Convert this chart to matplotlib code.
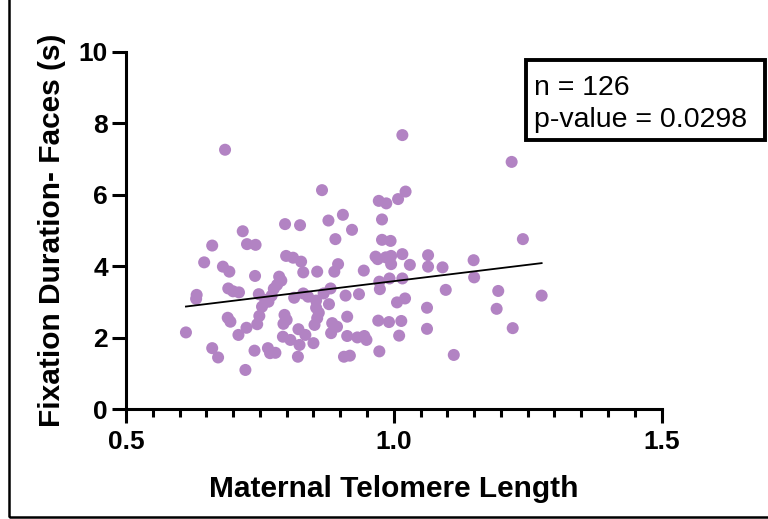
import numpy as np
import matplotlib.pyplot as plt
from matplotlib.patches import Rectangle

plt.rcParams['font.family'] = ['Liberation Sans', 'DejaVu Sans']

# maternal telomere length (x) vs fixation duration on faces in seconds (y)
telomere = [0.685, 0.866, 0.905, 0.878, 0.797, 0.825, 0.922, 0.718, 0.891, 0.661,
            0.726, 0.742, 0.646, 0.799, 0.812, 0.827, 0.896, 0.857, 0.681, 0.693,
            0.741, 0.786, 0.782, 0.776, 0.831, 0.889, 0.691, 0.711, 0.632, 0.631,
            0.748, 0.760, 0.766, 0.754, 0.814, 0.831, 0.869, 0.882, 0.855, 0.855,
            0.879, 0.910, 0.690, 0.695, 0.749, 0.745, 0.725, 0.710, 0.612, 0.796,
            0.794, 0.793, 0.807, 0.822, 0.824, 0.835, 0.850, 0.857, 0.852, 0.885,
            0.894, 0.883, 0.913, 0.913, 0.907, 0.661, 0.672, 0.740, 0.765, 0.769,
            0.779, 0.821, 0.723, 1.016, 1.220, 1.022, 1.008, 0.972, 0.986, 0.978,
            0.978, 0.994, 1.241, 0.966, 0.970, 0.995, 1.016, 0.995, 1.030, 1.064,
            1.064, 1.091, 1.149, 0.944, 1.150, 1.195, 1.192, 1.222, 1.112, 1.097,
            0.973, 0.974, 0.992, 1.016, 0.935, 1.006, 1.021, 1.062, 1.062, 0.971,
            0.991, 1.014, 1.010, 0.932, 0.949, 0.973, 0.918, 1.276, 0.790, 0.772,
            0.840, 0.860, 0.945, 0.985, 0.800, 0.700]
fixation = [7.26, 6.13, 5.44, 5.28, 5.18, 5.15, 5.02, 4.98, 4.76, 4.58,
            4.62, 4.60, 4.11, 4.29, 4.24, 4.13, 4.06, 3.85, 3.99, 3.85,
            3.73, 3.71, 3.48, 3.37, 3.83, 3.85, 3.38, 3.27, 3.20, 3.09,
            3.22, 3.06, 3.01, 2.87, 3.12, 3.24, 3.24, 3.38, 3.04, 2.84,
            2.94, 3.18, 2.56, 2.45, 2.61, 2.38, 2.28, 2.08, 2.15, 2.64,
            2.39, 2.03, 1.94, 2.24, 1.80, 2.08, 1.85, 2.55, 2.36, 2.41,
            2.31, 2.13, 2.59, 2.05, 1.47, 1.71, 1.45, 1.64, 1.71, 1.57,
            1.58, 1.47, 1.10, 7.67, 6.92, 6.09, 5.88, 5.83, 5.76, 5.31,
            4.74, 4.71, 4.76, 4.27, 4.20, 4.29, 4.34, 4.06, 4.04, 4.31,
            3.99, 3.97, 4.17, 3.88, 3.69, 3.31, 2.81, 2.27, 1.52, 3.34,
            3.57, 3.36, 3.66, 3.66, 3.22, 2.99, 3.10, 2.84, 2.25, 2.48,
            2.44, 2.47, 2.06, 2.01, 1.94, 1.62, 1.50, 3.18, 3.60, 3.18,
            3.15, 2.70, 2.05, 4.25, 2.50, 3.30]

n_label = 'n = 126'
p_label = 'p-value = 0.0298'

x = np.array(telomere)
y = np.array(fixation)
slope, intercept = np.polyfit(x, y, 1)

fig = plt.figure(figsize=(7.68, 5.19), dpi=100)
ax = fig.add_axes([0.164, 0.2114, 0.6975, 0.6888])

ax.scatter(x, y, s=75, color='#b283c3', edgecolors='none', zorder=3)
xs = np.array([x.min(), x.max()])
ax.plot(xs, slope * xs + intercept, color='black', lw=1.3, zorder=4)

ax.set_xlim(0.5, 1.5)
ax.set_ylim(0, 10)
ax.set_xticks([0.5, 1.0, 1.5])
ax.set_xticklabels(['0.5', '1.0', '1.5'])
ax.set_xticks(np.arange(0.55, 1.5, 0.05), minor=True)
ax.set_yticks(range(0, 11, 2))

for side in ['top', 'right']:
    ax.spines[side].set_visible(False)
for side in ['left', 'bottom']:
    ax.spines[side].set_linewidth(2.2)

ax.tick_params(axis='both', which='major', width=2.2, length=10, labelsize=19)
ax.tick_params(axis='x', which='major', pad=5)
ax.tick_params(axis='y', which='major', pad=3)
ax.tick_params(axis='x', which='minor', width=2.2, length=6)
for lbl in ax.get_xticklabels() + ax.get_yticklabels():
    lbl.set_fontweight('bold')

ax.set_xlabel('Maternal Telomere Length', fontsize=21.5, fontweight='bold', labelpad=15)
ax.set_ylabel('Fixation Duration- Faces (s)', fontsize=21.5, fontweight='bold', labelpad=9)

# stats box
fig.patches.append(Rectangle((526 / 768, 1 - 140 / 519), 239 / 768, 80 / 519,
                             transform=fig.transFigure, fill=False,
                             edgecolor='black', lw=2.8))
fig.text(534 / 768, 1 - 95 / 519, n_label, fontsize=20.5, va='baseline')
fig.text(534 / 768, 1 - 127 / 519, p_label, fontsize=20.5, va='baseline')

# outer frame
fig.patches.append(Rectangle((8.5 / 768, 2.3 / 519), 800 / 768, 600 / 519,
                             transform=fig.transFigure, fill=False,
                             edgecolor='black', lw=1.8))

fig.savefig('out.png', dpi=100)
